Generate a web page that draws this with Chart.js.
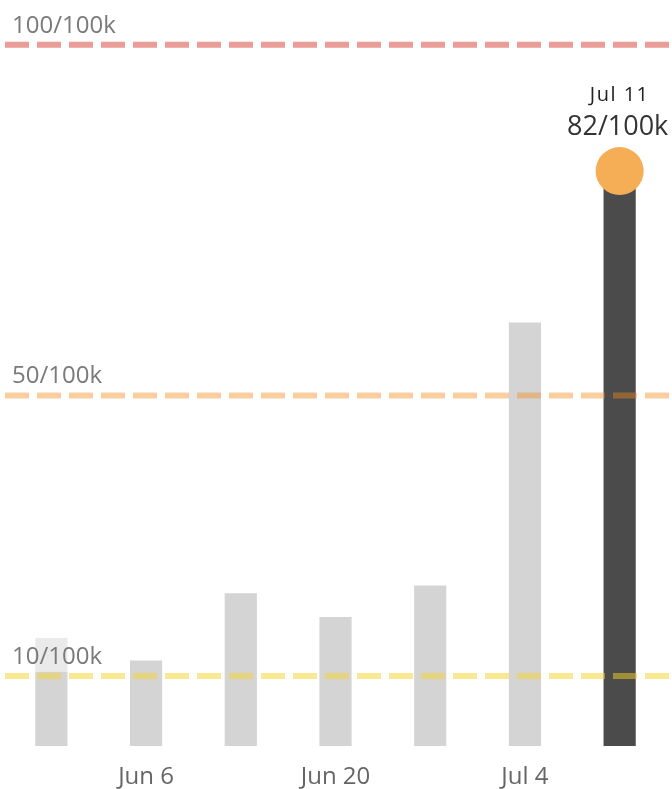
<!DOCTYPE html>
<html>
<head>
<meta charset="utf-8">
<script src="https://cdn.jsdelivr.net/npm/chart.js@4"></script>
<style>
html,body{margin:0;padding:0;background:#fff;}
#wrap{width:672px;height:789px;}
</style>
</head>
<body>
<div id="wrap"><canvas id="c" width="672" height="789"></canvas></div>
<script>
const categories = ['May 30', 'Jun 6', 'Jun 13', 'Jun 20', 'Jun 27', 'Jul 4', 'Jul 11'];
const shownTicks = ['Jun 6', 'Jun 20', 'Jul 4'];
const rates = [15.4, 12.2, 21.8, 18.4, 22.9, 60.4, 82];
const thresholds = [100, 50, 10];
const thresholdLabels = ['100/100k', '50/100k', '10/100k'];
const thresholdColors = ['rgba(215,60,50,0.5)', 'rgba(240,140,30,0.42)', 'rgba(245,210,40,0.5)'];
const latestLabel = 'Jul 11';
const latestValue = '82/100k';

const FONT = "'Open Sans', sans-serif";
const last = rates.length - 1;
const barColors = rates.map((v, i) => i === last ? '#4b4b4b' : '#d4d4d4');
const pointData = rates.map((v, i) => i === last ? v : null);

const overlay = {
  id: 'overlay',
  afterDatasetsDraw(chart) {
    const {ctx, chartArea, scales} = chart;
    const y = scales.y, x = scales.x;
    ctx.save();
    thresholds.forEach((t, i) => {
      const py = y.getPixelForValue(t);
      ctx.font = '24px ' + FONT;
      const w = ctx.measureText(thresholdLabels[i]).width;
      ctx.fillStyle = 'rgba(255,255,255,0.5)';
      ctx.fillRect(chartArea.left + 6, py - 38, w + 12, 34);
      ctx.setLineDash([24, 8]);
      ctx.lineWidth = 6;
      ctx.strokeStyle = thresholdColors[i];
      ctx.beginPath();
      ctx.moveTo(5, py);
      ctx.lineTo(chart.width, py);
      ctx.stroke();
      ctx.setLineDash([]);
      ctx.fillStyle = '#7a7a7a';
      ctx.textAlign = 'left';
      ctx.textBaseline = 'alphabetic';
      ctx.fillText(thresholdLabels[i], 12, py - 12);
    });
    // latest point annotation
    const px = x.getPixelForValue(last);
    const py = y.getPixelForValue(rates[last]);
    ctx.textAlign = 'center';
    ctx.fillStyle = '#333';
    ctx.font = '27px ' + FONT;
    ctx.fillText(latestValue, px - 2, py - 36);
    ctx.font = '20px ' + FONT;
    ctx.fillStyle = '#222';
    ctx.letterSpacing = '1.5px';
    ctx.fillText(latestLabel, px, py - 70);
    ctx.letterSpacing = '0px';
    ctx.restore();
  }
};

new Chart(document.getElementById('c'), {
  data: {
    labels: categories,
    datasets: [
      {
        type: 'line',
        data: pointData,
        showLine: false,
        pointRadius: 24,
        pointHoverRadius: 24,
        pointBackgroundColor: '#f5ae55',
        pointBorderWidth: 0,
        order: 0
      },
      {
        type: 'bar',
        data: rates,
        backgroundColor: barColors,
        categoryPercentage: 1,
        barPercentage: 0.34,
        order: 1
      }
    ]
  },
  options: {
    responsive: false,
    animation: false,
    events: [],
    layout: {autoPadding: false, padding: {left: 4, right: 5, top: 0, bottom: 0}},
    plugins: {legend: {display: false}, tooltip: {enabled: false}},
    scales: {
      x: {
        grid: {display: false, drawTicks: false},
        border: {display: false},
        afterFit: function(scale) { scale.height = 43; },
        ticks: {
          autoSkip: false,
          maxRotation: 0,
          padding: 19,
          color: '#666',
          font: {size: 24, family: FONT, lineHeight: 1},
          callback: function(v, i) {
            const l = categories[i];
            return shownTicks.includes(l) ? l : '';
          }
        }
      },
      y: {
        display: false,
        min: 0,
        max: 106.4
      }
    }
  },
  plugins: [overlay]
});
</script>
</body>
</html>
